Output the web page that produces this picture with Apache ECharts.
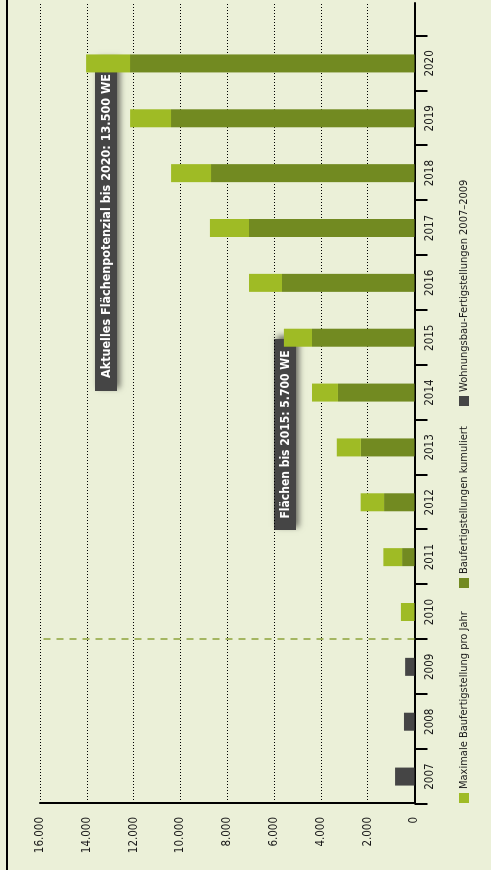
<!DOCTYPE html>
<html>
<head>
<meta charset="utf-8">
<script src="https://cdn.jsdelivr.net/npm/echarts@6/dist/echarts.min.js"></script>
<style>
  html, body { margin:0; padding:0; width:491px; height:870px; overflow:hidden; background:#ebf0d8; }
  #chart { position:absolute; left:0; top:0; width:870px; height:491px;
           transform-origin:0 0; transform:translateY(870px) rotate(-90deg); }
</style>
</head>
<body>
<div id="chart"></div>
<script>
// ---- data ----
const years = ['2007','2008','2009','2010','2011','2012','2013','2014','2015','2016','2017','2018','2019','2020'];
const wohnungsbau = [830, 450, 400, null, null, null, null, null, null, null, null, null, null, null];
const kumuliert   = [null, null, null, 0, 530, 1300, 2290, 3270, 4380, 5660, 7070, 8690, 10400, 12150];
const maximal     = [null, null, null, 580, 800, 1000, 1030, 1110, 1200, 1410, 1670, 1710, 1750, 1880];
const valueMin = 0, valueMax = 16000, valueStep = 2000;
const seriesNames = ['Maximale Baufertigstellung pro Jahr', 'Baufertigstellungen kumuliert', 'Wohnungsbau-Fertigstellungen 2007–2009'];
const notes = ['Aktuelles Flächenpotenzial bis 2020: 13.500 WE', 'Flächen bis 2015: 5.700 WE'];

const FONT = "'DejaVu Sans Condensed', 'Liberation Sans Narrow', 'Liberation Sans', sans-serif";
const C_LIGHT = '#9fbb25', C_DARK = '#728a21', C_GREY = '#454545', TXT = '#1a1a1a';
const fmt = v => String(v).replace(/\B(?=(\d{3})+(?!\d))/g, '.');

const measureCtx = document.createElement('canvas').getContext('2d');
function textWidth(text, font) { measureCtx.font = font; return measureCtx.measureText(text).width; }

const chart = echarts.init(document.getElementById('chart'), null, {renderer:'canvas', width:870, height:491});

function legendAt(name, left) {
  return { data:[name], left:left, top:458.5, padding:0, itemWidth:10, itemHeight:10, itemGap:0,
           icon:'rect', selectedMode:false,
           textStyle:{ fontFamily:FONT, fontSize:11, color:TXT, padding:[0,0,0,-1] } };
}

function note(text, x, y, w, h, textW) {
  const font = 'bold 13px ' + FONT;
  const sx = Math.min(1, textW / textWidth(text, font));
  return { type:'group', z:100, children:[
    { type:'rect', shape:{x:x, y:y, width:w, height:h},
      style:{ fill:'#454545', shadowBlur:6, shadowOffsetX:3, shadowOffsetY:3, shadowColor:'rgba(0,0,0,0.55)' } },
    { type:'text', x:x + w/2, y:y + h/2 + 0.5, scaleX:sx,
      style:{ text:text, fill:'#ffffff', font:font, align:'center', verticalAlign:'middle' } }
  ]};
}

chart.setOption({
  backgroundColor:'#ebf0d8',
  animation:false,
  grid:[
    { left:67, right:3, top:40, bottom:76.5 },
    { left:66, right:36, top:40, bottom:76.5 }
  ],
  legend:[ legendAt(seriesNames[0], 67), legendAt(seriesNames[1], 282), legendAt(seriesNames[2], 464) ],
  xAxis:[
    { type:'value', gridIndex:0, min:0, max:1, show:true,
      axisLine:{ show:true, onZero:false, lineStyle:{ color:'#000', width:2 } },
      axisTick:{show:false}, axisLabel:{show:false}, splitLine:{show:false} },
    { type:'category', gridIndex:1, data:years,
      axisLine:{ show:false },
      axisTick:{ show:true, length:13, lineStyle:{ color:'#000', width:2 } },
      axisLabel:{ fontFamily:FONT, fontSize:11.5, color:TXT, margin:10 } },
    { type:'value', gridIndex:1, min:0, max:years.length, show:false }
  ],
  yAxis:[
    { type:'value', gridIndex:0, min:valueMin, max:valueMax, interval:valueStep,
      axisLine:{ show:true, lineStyle:{ color:'#000', width:2 } },
      axisTick:{ show:false },
      axisLabel:{ fontFamily:FONT, fontSize:11.5, color:TXT, margin:14, formatter:fmt },
      splitLine:{ show:true, lineStyle:{ color:'#000', width:1, type:[1,2] } } },
    { type:'value', gridIndex:1, min:valueMin, max:valueMax, interval:valueStep, show:false, splitLine:{show:false} }
  ],
  series:[
    { name:seriesNames[2], type:'bar', xAxisIndex:1, yAxisIndex:1, stack:'s', barWidth:18,
      itemStyle:{ color:C_GREY }, data:wohnungsbau },
    { name:seriesNames[1], type:'bar', xAxisIndex:1, yAxisIndex:1, stack:'s', barWidth:18,
      itemStyle:{ color:C_DARK }, data:kumuliert },
    { name:seriesNames[0], type:'bar', xAxisIndex:1, yAxisIndex:1, stack:'s', barWidth:18,
      itemStyle:{ color:C_LIGHT }, data:maximal },
    { name:'divider', type:'line', xAxisIndex:2, yAxisIndex:1, data:[], silent:true,
      markLine:{ symbol:'none', silent:true, label:{show:false},
        lineStyle:{ color:'#8da23a', width:1.5, type:[7,6] },
        data:[ { xAxis:3 } ] } }
  ],
  graphic:[
    { type:'rect', shape:{ x:0, y:6, width:870, height:2 }, style:{ fill:'#000' } },
    note(notes[0], 479, 95, 330, 22, 304),
    note(notes[1], 340, 274, 191, 22, 168)
  ]
});
</script>
</body>
</html>
